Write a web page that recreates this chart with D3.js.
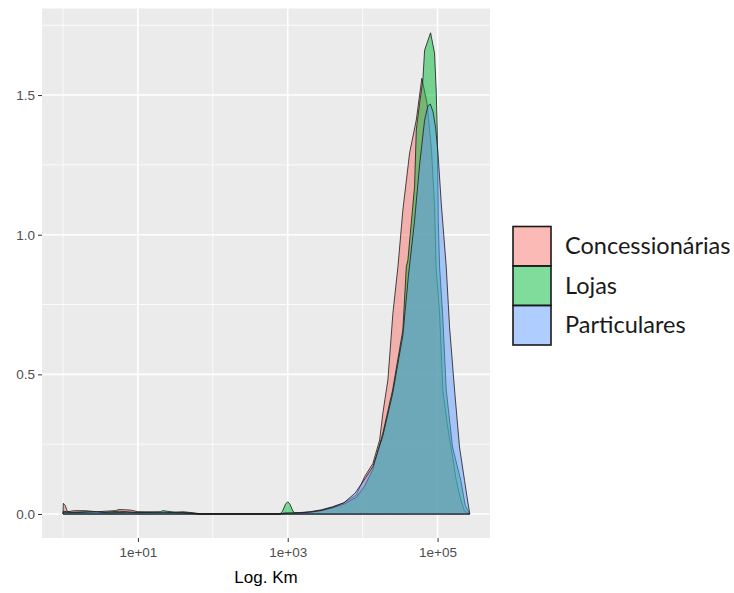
<!DOCTYPE html>
<html>
<head>
<meta charset="utf-8">
<script src="https://cdn.jsdelivr.net/npm/d3@7"></script>
<style>
  body { margin: 0; background: #fff; }
  svg { display: block; }
</style>
</head>
<body>
<div id="chart"></div>
<script>
// density of log10(km)

let groups = ["Concessionárias", "Lojas", "Particulares"]
let colors = ["#F8766D", "#00BA38", "#619CFF"]

// Concessionárias
let concLogKm = [0, 0.005, 0.03, 0.06, 0.15, 0.3, 0.45, 0.7, 0.75, 0.9, 1.0, 1.2, 1.35, 1.6, 1.75, 1.85,
  2.9, 2.95, 3.05, 3.16, 3.3, 3.45, 3.6, 3.75, 3.916, 4.027, 4.137, 4.227, 4.27, 4.337, 4.404, 4.471,
  4.537, 4.627, 4.716, 4.79, 4.86, 4.92, 4.96, 4.98, 5.027, 5.07, 5.13, 5.18, 5.25, 5.31, 5.36, 5.43]
let concDensity = [0, 0.038, 0.03, 0.008, 0.012, 0.012, 0.008, 0.012, 0.016, 0.014, 0.008, 0.006, 0.004, 0.008, 0.004, 0,
  0, 0.004, 0.004, 0.005, 0.008, 0.015, 0.026, 0.04, 0.068, 0.134, 0.181, 0.265, 0.361, 0.48, 0.719, 0.885,
  1.088, 1.293, 1.411, 1.56, 1.47, 1.3, 1.1, 0.885, 0.719, 0.444, 0.32, 0.24, 0.12, 0.05, 0.01, 0]

// Lojas
let lojasLogKm = [0, 0.005, 0.1, 0.3, 0.55, 0.75, 0.95, 1.3, 1.33, 1.5, 1.7, 1.8,
  2.9, 2.93, 2.97, 3.0, 3.03, 3.07, 3.1, 3.3, 3.45, 3.6, 3.75, 3.916, 4.027, 4.137, 4.27, 4.4,
  4.537, 4.583, 4.604, 4.693, 4.716, 4.76, 4.804, 4.827, 4.907, 4.96, 4.983, 4.996, 5.01, 5.027,
  5.067, 5.116, 5.2, 5.31, 5.37, 5.43]
let lojasDensity = [0, 0.01, 0.006, 0.008, 0.006, 0.01, 0.006, 0.008, 0.012, 0.006, 0.004, 0,
  0, 0.01, 0.035, 0.044, 0.035, 0.01, 0.003, 0.006, 0.012, 0.022, 0.035, 0.06, 0.1, 0.16, 0.29, 0.444,
  0.659, 0.885, 0.909, 1.172, 1.375, 1.47, 1.554, 1.661, 1.723, 1.65, 1.507, 1.375, 1.05, 0.885,
  0.719, 0.444, 0.24, 0.12, 0.03, 0]

// Particulares
let partLogKm = [0, 0.005, 0.2, 0.45, 0.6, 0.85, 1.0, 1.35, 1.6, 1.8,
  2.9, 3.0, 3.16, 3.3, 3.45, 3.6, 3.75, 3.9, 4.04, 4.137, 4.27, 4.4, 4.537, 4.61, 4.693,
  4.76, 4.827, 4.87, 4.903, 4.94, 4.975, 5.004, 5.05, 5.116, 5.16, 5.227, 5.293, 5.36, 5.4, 5.43]
let partDensity = [0, 0.006, 0.005, 0.008, 0.004, 0.006, 0.005, 0.006, 0.004, 0,
  0, 0.003, 0.004, 0.007, 0.013, 0.024, 0.04, 0.075, 0.13, 0.17, 0.28, 0.43, 0.64, 0.85, 1.05,
  1.25, 1.41, 1.46, 1.468, 1.44, 1.38, 1.3, 1.11, 0.885, 0.67, 0.444, 0.24, 0.12, 0.05, 0]

let xMajor = [10, 1000, 100000]
let xMinor = [1, 100, 10000]
let yMajor = [0, 0.5, 1, 1.5]
let yMinor = [0.25, 0.75, 1.25, 1.75]
let xTitle = "Log. Km"

let series = [
  {name: groups[0], color: colors[0], logKm: concLogKm, density: concDensity},
  {name: groups[1], color: colors[1], logKm: lojasLogKm, density: lojasDensity},
  {name: groups[2], color: colors[2], logKm: partLogKm, density: partDensity}
]

let width = 734
let height = 593
let panel = {left: 42, right: 490, top: 8.5, bottom: 538}

let svg = d3.select("#chart")
  .append("svg")
  .attr("width", width)
  .attr("height", height)

let x = d3.scaleLog()
  .domain([Math.pow(10, -0.28), Math.pow(10, 5.70)])
  .range([panel.left, panel.right])

let y = d3.scaleLinear()
  .domain([-0.086, 1.81])
  .range([panel.bottom, panel.top])

// panel background
svg.append("rect")
  .attr("x", panel.left)
  .attr("y", panel.top)
  .attr("width", panel.right - panel.left)
  .attr("height", panel.bottom - panel.top)
  .attr("fill", "#EBEBEB")

let grid = svg.append("g")

grid.selectAll(".ymin").data(yMinor).enter().append("line")
  .attr("x1", panel.left).attr("x2", panel.right)
  .attr("y1", d => y(d)).attr("y2", d => y(d))
  .attr("stroke", "#fff").attr("stroke-width", 0.8)

grid.selectAll(".xmin").data(xMinor).enter().append("line")
  .attr("y1", panel.top).attr("y2", panel.bottom)
  .attr("x1", d => x(d)).attr("x2", d => x(d))
  .attr("stroke", "#fff").attr("stroke-width", 0.8)

grid.selectAll(".ymaj").data(yMajor).enter().append("line")
  .attr("x1", panel.left).attr("x2", panel.right)
  .attr("y1", d => y(d)).attr("y2", d => y(d))
  .attr("stroke", "#fff").attr("stroke-width", 1.6)

grid.selectAll(".xmaj").data(xMajor).enter().append("line")
  .attr("y1", panel.top).attr("y2", panel.bottom)
  .attr("x1", d => x(d)).attr("x2", d => x(d))
  .attr("stroke", "#fff").attr("stroke-width", 1.6)

// density areas
let area = d3.area()
  .x(d => x(Math.pow(10, d[0])))
  .y0(y(0))
  .y1(d => y(d[1]))

svg.append("g").selectAll("path")
  .data(series)
  .enter()
  .append("path")
  .attr("d", s => area(s.logKm.map((v, i) => [v, s.density[i]])))
  .attr("fill", s => s.color)
  .attr("fill-opacity", 0.5)
  .attr("stroke", "#1a1a1a")
  .attr("stroke-width", 0.8)
  .attr("stroke-linejoin", "round")

// axes
let axisFont = "'Liberation Sans', Arial, sans-serif"

function styleAxis(g) {
  g.select(".domain").remove()
  g.selectAll(".tick line").attr("stroke", "#333").attr("stroke-width", 1)
  g.selectAll(".tick text")
    .attr("fill", "#4D4D4D")
    .style("font-family", axisFont)
    .style("font-size", "13.5px")
}

svg.append("g")
  .attr("transform", `translate(${panel.left},0)`)
  .call(d3.axisLeft(y).tickValues(yMajor).tickFormat(d3.format(".1f")).tickSize(4).tickPadding(3))
  .call(styleAxis)

svg.append("g")
  .attr("transform", `translate(0,${panel.bottom})`)
  .call(d3.axisBottom(x).tickValues(xMajor)
    .tickFormat(d => "1e+" + String(Math.round(Math.log10(d))).padStart(2, "0"))
    .tickSize(4).tickPadding(5))
  .call(styleAxis)

svg.append("text")
  .attr("x", (panel.left + panel.right) / 2)
  .attr("y", 583)
  .attr("text-anchor", "middle")
  .style("font-family", axisFont)
  .style("font-size", "17px")
  .attr("fill", "#000")
  .text(xTitle)

// legend
let keySize = 39.5
let legend = svg.append("g").attr("transform", "translate(513,226.5)")

let items = legend.selectAll("g")
  .data(series)
  .enter()
  .append("g")
  .attr("transform", (d, i) => `translate(0,${i * keySize})`)

items.append("rect")
  .attr("width", 38)
  .attr("height", keySize)
  .attr("fill", d => d.color)
  .attr("fill-opacity", 0.5)
  .attr("stroke", "#1a1a1a")
  .attr("stroke-width", 1.6)

items.append("text")
  .attr("x", 52)
  .attr("y", keySize / 2)
  .attr("dy", "0.35em")
  .style("font-family", "Lato, 'Open Sans', sans-serif")
  .style("font-size", "23.5px")
  .attr("fill", "#1a1a1a")
  .text(d => d.name)
</script>
</body>
</html>
